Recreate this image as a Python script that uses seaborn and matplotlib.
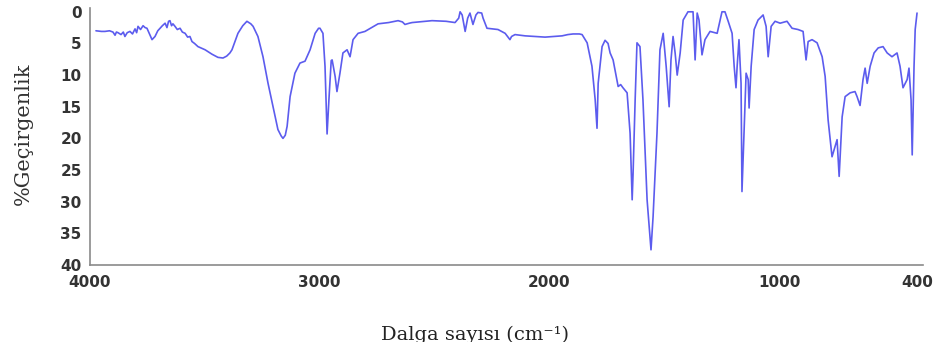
import matplotlib
matplotlib.use("Agg")
import matplotlib.pyplot as plt
import seaborn as sns
import pandas as pd

# Wavenumber (cm^-1) and % transmittance
wavenumber = [
    3974, 3950, 3935, 3915, 3900, 3891, 3885, 3878, 3865, 3855, 3848, 3838, 3826, 3815,
    3804, 3797, 3791, 3780, 3769, 3760, 3752, 3740, 3730, 3717, 3705, 3695, 3685, 3673,
    3665, 3658, 3652, 3645, 3639, 3630, 3620, 3608, 3598, 3586, 3575, 3565, 3556, 3545,
    3530, 3499, 3469, 3443, 3421, 3405, 3391, 3382, 3356, 3335, 3317, 3300, 3290, 3269,
    3247, 3225, 3203, 3182, 3168, 3160, 3150, 3142, 3129, 3108, 3086, 3064, 3042, 3020,
    3005, 2999, 2986, 2977, 2968, 2960, 2950, 2946, 2933, 2925, 2912, 2899, 2881, 2868,
    2855, 2833, 2803, 2746, 2700, 2659, 2640, 2629, 2610, 2598, 2511, 2450, 2411, 2395,
    2389, 2380, 2367, 2356, 2346, 2333, 2320, 2311, 2295, 2289, 2272, 2224, 2193, 2172,
    2165, 2150, 2106, 2019, 1980, 1945, 1920, 1897, 1870, 1858, 1836, 1815, 1801, 1793,
    1788, 1771, 1758, 1745, 1736, 1723, 1701, 1690, 1680, 1662, 1649, 1640, 1636, 1627,
    1619, 1606, 1593, 1575, 1558, 1549, 1532, 1519, 1505, 1492, 1479, 1471, 1462, 1453,
    1444, 1431, 1418, 1397, 1388, 1375, 1366, 1357, 1349, 1336, 1323, 1301, 1270, 1249,
    1236, 1222, 1205, 1196, 1188, 1183, 1175, 1166, 1162, 1153, 1144, 1135, 1131, 1122,
    1109, 1092, 1070, 1057, 1048, 1035, 1018, 996, 966, 944, 918, 896, 883, 874,
    857, 835, 813, 800, 787, 770, 757, 748, 739, 726, 713, 691, 670, 661,
    648, 635, 626, 617, 604, 587, 569, 548, 530, 509, 487, 474, 461, 443,
    435, 426, 421, 413, 408, 400,
]
transmittance = [
    3.0, 3.1, 3.1, 3.0, 3.2, 3.7, 3.2, 3.3, 3.6, 3.2, 3.9, 3.3, 3.1, 3.5,
    2.7, 3.3, 2.3, 2.8, 2.2, 2.5, 2.6, 3.6, 4.4, 3.9, 3.0, 2.6, 2.2, 1.8,
    2.5, 1.5, 1.4, 2.2, 1.9, 2.3, 2.8, 2.6, 3.2, 3.4, 4.0, 3.9, 4.7, 5.0,
    5.5, 6.0, 6.7, 7.2, 7.3, 7.0, 6.5, 6.0, 3.4, 2.2, 1.5, 1.9, 2.3, 3.9,
    7.1, 11.3, 15.0, 18.6, 19.6, 20.0, 19.5, 18.1, 13.4, 9.7, 8.1, 7.8, 6.0, 3.4,
    2.6, 2.6, 3.4, 8.6, 19.3, 13.9, 7.7, 7.6, 10.2, 12.6, 9.7, 6.5, 6.0, 7.1,
    4.4, 3.4, 3.1, 1.9, 1.7, 1.4, 1.6, 2.0, 1.8, 1.7, 1.4, 1.5, 1.7, 1.0,
    0.0, 0.5, 3.1, 1.0, 0.2, 2.0, 0.5, 0.1, 0.2, 1.0, 2.6, 2.8, 3.4, 4.4,
    3.9, 3.6, 3.8, 4.0, 3.9, 3.8, 3.6, 3.5, 3.5, 3.6, 4.9, 8.6, 13.9, 18.4,
    11.3, 5.5, 4.5, 5.0, 6.5, 7.6, 11.8, 11.5, 12.0, 12.8, 19.2, 29.7, 25.5, 13.9,
    4.9, 5.5, 13.9, 29.7, 37.6, 32.4, 19.2, 6.0, 3.4, 8.6, 15.0, 7.6, 3.9, 6.5,
    10.0, 6.5, 1.3, 0.0, 0.0, 0.0, 7.6, 0.2, 1.3, 6.8, 4.4, 3.1, 3.4, 0.0,
    0.0, 1.5, 3.4, 8.6, 12.0, 8.6, 4.4, 11.3, 28.4, 19.2, 9.7, 10.7, 15.2, 8.6,
    2.8, 1.3, 0.5, 2.3, 7.1, 2.3, 1.5, 1.8, 1.5, 2.6, 2.8, 3.1, 7.6, 4.7,
    4.4, 4.9, 7.1, 10.2, 17.1, 22.9, 21.3, 20.2, 26.0, 16.6, 13.4, 12.8, 12.6, 13.4,
    14.8, 10.7, 8.9, 11.3, 8.6, 6.5, 5.7, 5.5, 6.5, 7.1, 6.5, 8.6, 12.0, 10.7,
    8.9, 13.9, 22.6, 8.6, 2.8, 0.2,
]
x_ticks = [4000, 3000, 2000, 1000, 400]
y_ticks = [0, 5, 10, 15, 20, 25, 30, 35, 40]

sns.set_theme(style="white")
plt.rcParams["font.family"] = ["DejaVu Sans"]

df = pd.DataFrame({"wn": wavenumber, "T": transmittance})

fig = plt.figure(figsize=(9.37, 3.42), dpi=100)
ax = fig.add_axes([90 / 937, 77 / 342, 833 / 937, 257 / 342])

sns.lineplot(data=df, x="wn", y="T", sort=False, estimator=None,
             color="#5c5cee", linewidth=1.2, ax=ax, clip_on=False)

ax.set_xlim(4000, 374)
ax.set_ylim(40, -0.6)
ax.set_xticks(x_ticks)
ax.set_xticklabels([str(v) for v in x_ticks])
ax.set_yticks(y_ticks)
ax.set_yticklabels([str(v) for v in y_ticks])

for side in ["top", "right"]:
    ax.spines[side].set_visible(False)
for side in ["left", "bottom"]:
    ax.spines[side].set_color("#8a8a8a")
    ax.spines[side].set_linewidth(1.2)

ax.tick_params(axis="both", which="major", length=3, width=1, color="#8a8a8a",
               labelsize=11, labelcolor="#333333", direction="out")
ax.tick_params(axis="x", pad=4)
ax.tick_params(axis="y", pad=3)
for lab in ax.get_xticklabels() + ax.get_yticklabels():
    lab.set_fontweight("bold")

ax.set_xlabel("Dalga sayısı (cm⁻¹)", family=["DejaVu Serif"], fontsize=14, color="#222222")
ax.set_ylabel("%Geçirgenlik", family=["DejaVu Serif"], fontsize=15, color="#333333")
ax.xaxis.set_label_coords(0.462, -0.235)
ax.yaxis.set_label_coords(-0.068, 0.51)

fig.savefig("out.png", dpi=100, facecolor="white")
